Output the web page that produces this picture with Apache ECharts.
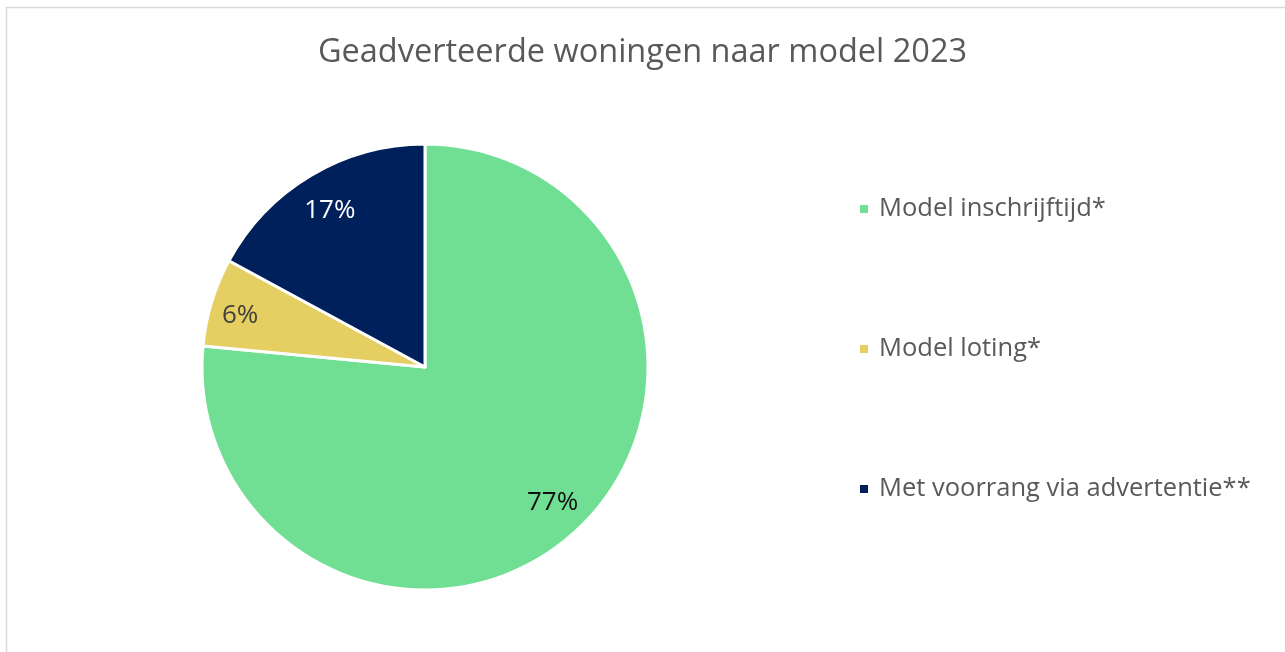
<!DOCTYPE html>
<html><head><meta charset="utf-8">
<script src="https://cdn.jsdelivr.net/npm/echarts@6/dist/echarts.min.js"></script>
<style>html,body{margin:0;padding:0;background:#fff;}#c{width:1285px;height:652px;}</style>
</head><body><div id="c"></div>
<script>
const titleText = 'Geadverteerde woningen naar model 2023';
const categories = ['Model inschrijftijd*', 'Model loting*', 'Met voorrang via advertentie**'];
const values = [76.5, 6.4, 17.1];
const labelTexts = ['77%', '6%', '17%'];
const colors = ['#70DF93', '#E6CF62', '#00205B'];
const labelColors = ['#111111', '#404040', '#FFFFFF'];
const labelOffsets = [[1, -3], [-5, 3], [1, 5]];

const chart = echarts.init(document.getElementById('c'));
const FONT = 'Open Sans';
chart.setOption({
  animation: false,
  textStyle: { fontFamily: FONT },
  title: {
    text: titleText, left: 'center', top: 31,
    textStyle: { fontFamily: FONT, fontSize: 32.5, fontWeight: 'normal', color: '#595959' }
  },
  legend: {
    orient: 'vertical', left: 853, top: 189,
    itemWidth: 10, itemHeight: 10, itemGap: 110,
    icon: 'rect',
    data: categories,
    textStyle: { fontFamily: FONT, fontSize: 25.5, color: '#595959', lineHeight: 30, padding: [0, 0, 0, 5] }
  },
  graphic: [{
    type: 'rect', silent: true,
    shape: { x: 6.5, y: 7.5, width: 1400, height: 800 },
    style: { fill: 'none', stroke: '#d9d9d9', lineWidth: 1.5 }
  }],
  series: [{
    type: 'pie', center: [425, 367], radius: 223, startAngle: 90, clockwise: true,
    silent: true,
    label: { show: false }, labelLine: { show: false },
    itemStyle: { borderColor: '#ffffff', borderWidth: 3 },
    data: categories.map((n, i) => ({ name: n, value: values[i], itemStyle: { color: colors[i] } }))
  }, {
    type: 'pie', center: [425, 367], radius: [147, 223], startAngle: 90, clockwise: true,
    silent: true,
    itemStyle: { color: 'rgba(0,0,0,0)', borderWidth: 0 },
    labelLine: { show: false },
    label: { show: true, position: 'inside', fontFamily: FONT, fontSize: 26,
      formatter: p => labelTexts[p.dataIndex] },
    data: categories.map((n, i) => ({ name: n, value: values[i],
      itemStyle: { color: 'rgba(0,0,0,0)' },
      label: { color: labelColors[i], offset: labelOffsets[i] } }))
  }]
});
</script></body></html>
